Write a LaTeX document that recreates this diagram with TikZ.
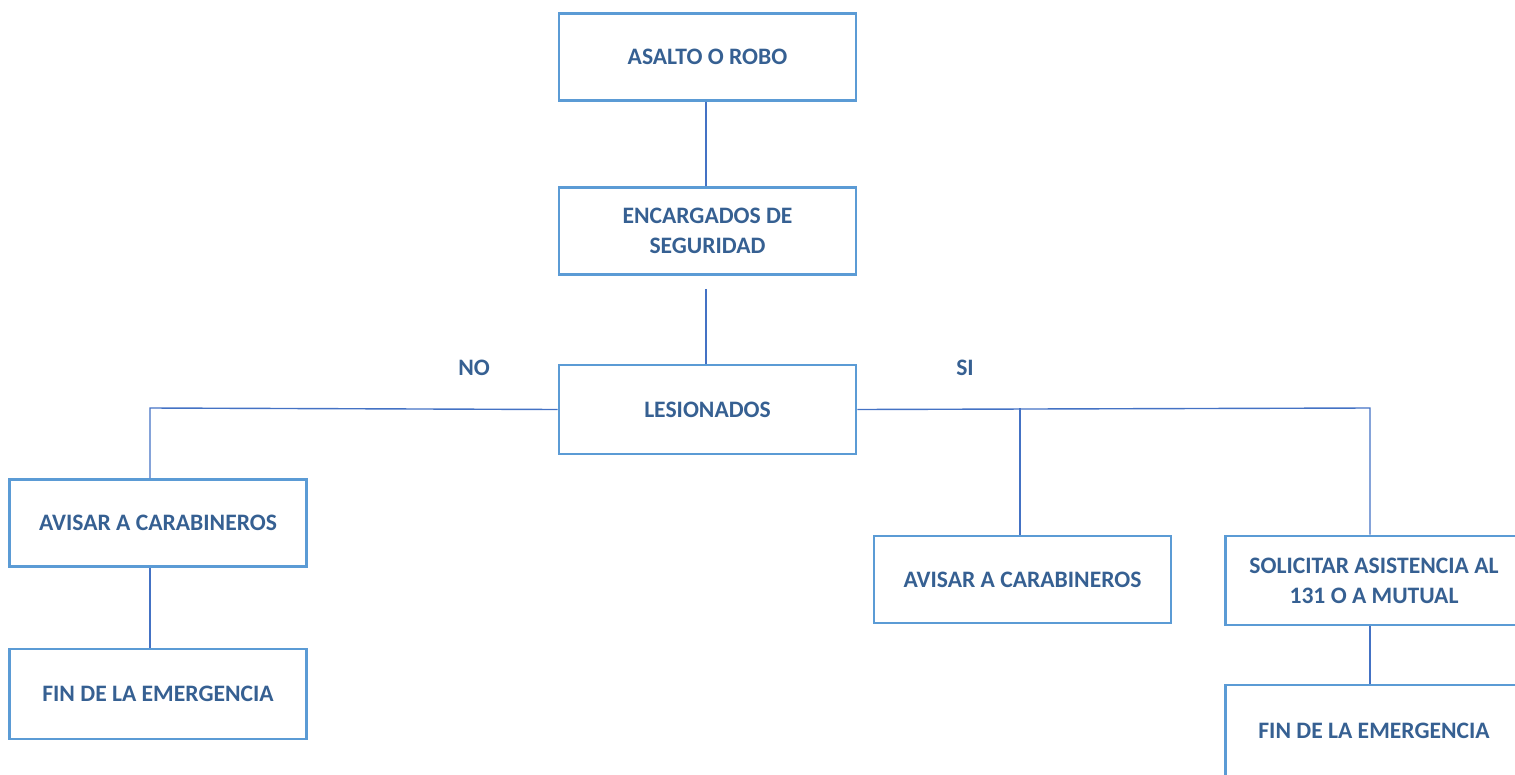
\documentclass[tikz,border=0pt]{standalone}
\usepackage{fontspec}
\setmainfont{Carlito}
\usetikzlibrary{positioning}
\definecolor{boxline}{RGB}{91,155,213}
\definecolor{boxtext}{RGB}{54,96,146}
\definecolor{joinline}{RGB}{68,114,196}
\begin{document}
\begin{tikzpicture}[x=1pt,y=-1pt,
	box/.style={draw=boxline,line width=2.6pt,minimum width=297pt,minimum height=87pt,
		align=center,text=boxtext,font=\fontsize{23.6}{30}\selectfont\bfseries},
	tag/.style={text=boxtext,font=\fontsize{23.6}{30}\selectfont\bfseries},
	link/.style={draw=joinline,line width=1.4pt}]
	\useasboundingbox (0,0) rectangle (1515,774);

	\node[box] (A1) at (707.5,57) {ASALTO O ROBO};
	\node[box] (A2) at (707.5,231) {ENCARGADOS DE\\SEGURIDAD};
	\node[box,minimum height=89pt] (A3) at (707.5,409.5) {LESIONADOS};

	\node[box] (N1) at (158,523) {AVISAR A CARABINEROS};
	\node[box,minimum height=90pt] (N2) at (158,694) {FIN DE LA EMERGENCIA};

	\node[box] (S1) at (1022.5,579.5) {AVISAR A CARABINEROS};
	\node[box,minimum height=89pt] (S2) at (1374,580.5) {SOLICITAR ASISTENCIA AL\\131 O A MUTUAL};
	\node[box,minimum height=92pt] (S3) at (1374,731) {FIN DE LA EMERGENCIA};

	\node[tag] (NO) at (474,368) {NO};
	\node[tag] (SI) at (965,368) {SI};

	\coordinate (C1) at (150,408);
	\coordinate (C2) at (1020,408);
	\coordinate (C3) at (1370,408);

	\draw[link] ([xshift=-1.5pt]A1.south) -- ([xshift=-1.5pt]A2.north);
	\draw[link] ([xshift=-1.5pt,yshift=-13pt]A2.south) -- ([xshift=-1.5pt]A3.north);
	\draw[link] (A3.west) -- (C1) -- (C1 |- N1.north);
	\draw[link] (N1.south -| C1) -- (N2.north -| C1);
	\draw[link] (A3.east) -- (C3) -- (C3 |- S2.north);
	\draw[link] (C2) -- (C2 |- S1.north);
	\draw[link] (S2.south -| C3) -- (S3.north -| C3);
\end{tikzpicture}
\end{document}
